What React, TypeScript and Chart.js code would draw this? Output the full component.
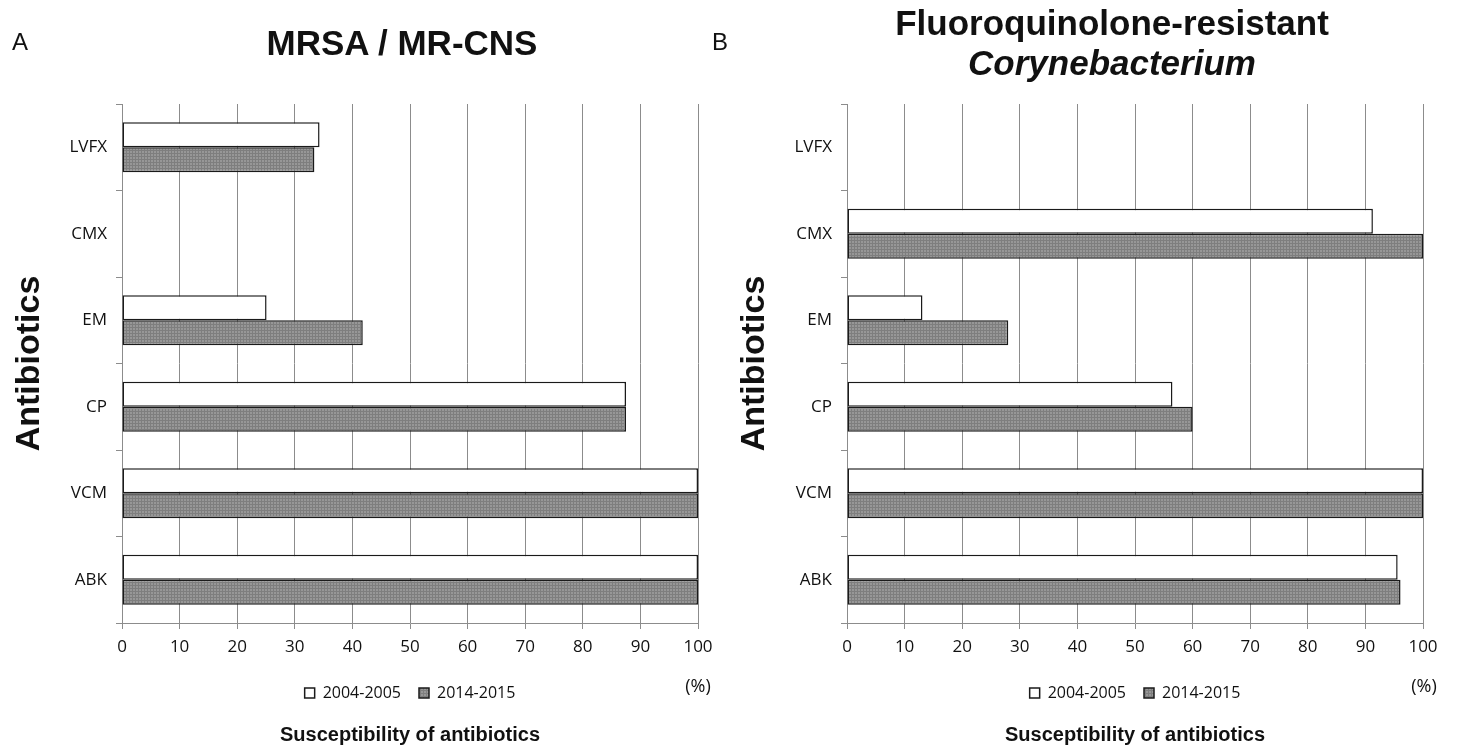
import React, { useEffect, useRef } from "react";
import { Chart, registerables } from "chart.js";

Chart.register(...registerables);

// ---- data ----
const categories = ["LVFX", "CMX", "EM", "CP", "VCM", "ABK"];
const seriesLabels = ["2004-2005", "2014-2015"];
const mrsa2004 = [34.3, null, 25.1, 87.5, 100, 100];
const mrsa2014 = [33.4, null, 41.8, 87.5, 100, 100];
const coryne2004 = [null, 91.3, 13.1, 56.5, 100, 95.6];
const coryne2014 = [null, 100, 28.0, 60.0, 100, 96.1];
const xMin = 0;
const xMax = 100;
const xStep = 10;
const xAxisTitle = "Susceptibility of antibiotics";
const yAxisTitle = "Antibiotics";
const panelLetters = ["A", "B"];
const titleLeft = "MRSA / MR-CNS";
const titleRightLine1 = "Fluoroquinolone-resistant";
const titleRightLine2 = "Corynebacterium";
const unitLabel = "(%)";

const GRID = "#8c8c8c";
const TXT = "#111111";
const TICK_FONT = "'Open Sans', 'Noto Sans', sans-serif";
const BOLD_FONT = "'Liberation Sans', Arial, sans-serif";

function makePattern(ctx: CanvasRenderingContext2D) {
  const c = document.createElement("canvas");
  c.width = 3;
  c.height = 3;
  const g = c.getContext("2d")!;
  g.fillStyle = "#979797";
  g.fillRect(0, 0, 3, 3);
  g.fillStyle = "#7e7e7e";
  g.fillRect(0, 0, 3, 1);
  g.fillRect(0, 0, 1, 3);
  return ctx.createPattern(c, "repeat") || "#8e8e8e";
}

function BarPanel({ d1, d2 }: { d1: (number | null)[]; d2: (number | null)[] }) {
  const ref = useRef<HTMLCanvasElement | null>(null);
  useEffect(() => {
    const canvas = ref.current!;
    const ctx = canvas.getContext("2d")!;
    const pattern = makePattern(ctx);
    const common = {
      borderColor: "#1a1a1a",
      borderWidth: 1.5,
      borderSkipped: false,
      barPercentage: 1.0,
      categoryPercentage: 0.58,
    };
    const chart = new Chart(ctx, {
      type: "bar",
      data: {
        labels: categories,
        datasets: [
          { label: seriesLabels[0], data: d1, backgroundColor: "#ffffff", ...common },
          { label: seriesLabels[1], data: d2, backgroundColor: pattern as any, ...common },
        ],
      },
      options: {
        indexAxis: "y",
        responsive: false,
        animation: false,
        layout: { padding: { top: 104, left: 0, right: 30, bottom: 0 } },
        scales: {
          x: {
            min: xMin,
            max: xMax,
            ticks: {
              stepSize: xStep,
              color: TXT,
              padding: 8,
              font: { family: TICK_FONT, size: 17 },
            },
            grid: { color: GRID, lineWidth: 1, tickLength: 6, drawTicks: true },
            border: { color: GRID, width: 1 },
            afterFit: (scale: any) => {
              scale.height = 44;
            },
          },
          y: {
            ticks: {
              color: TXT,
              padding: 9,
              font: { family: TICK_FONT, size: 17 },
            },
            grid: {
              color: GRID,
              drawOnChartArea: false,
              drawTicks: true,
              tickLength: 6,
              offset: true,
            },
            border: { color: GRID, width: 1 },
            title: {
              display: true,
              text: yAxisTitle,
              color: TXT,
              font: { family: BOLD_FONT, size: 34, weight: "bold" },
              padding: { top: 9, bottom: 0 },
            },
            afterFit: (scale: any) => {
              scale.width = 122;
            },
          },
        },
        plugins: {
          tooltip: { enabled: false },
          legend: {
            display: true,
            position: "bottom",
            fullSize: false,
            align: "center",
            labels: {
              boxWidth: 10,
              boxHeight: 10,
              padding: 18,
              color: TXT,
              font: { family: TICK_FONT, size: 16 },
            },
          },
          title: {
            display: true,
            text: xAxisTitle,
            position: "bottom",
            fullSize: false,
            color: TXT,
            font: { family: BOLD_FONT, size: 20, weight: "bold" },
            padding: { top: 12, bottom: 4 },
          },
        },
      },
    } as any);
    return () => chart.destroy();
  }, [d1, d2]);
  return <canvas ref={ref} width={728} height={751} style={{ display: "block" }} />;
}

const abs = (extra: React.CSSProperties): React.CSSProperties => ({
  position: "absolute",
  whiteSpace: "nowrap",
  lineHeight: 1,
  color: TXT,
  ...extra,
});

export default function App() {
  return (
    <div
      style={{
        position: "fixed",
        left: 0,
        top: 0,
        width: 1457,
        height: 751,
        background: "#ffffff",
        overflow: "hidden",
      }}
    >
      <div style={{ position: "absolute", left: 0, top: 0 }}>
        <BarPanel d1={mrsa2004} d2={mrsa2014} />
      </div>
      <div style={{ position: "absolute", left: 725, top: 0 }}>
        <BarPanel d1={coryne2004} d2={coryne2014} />
      </div>
      <div style={abs({ left: 12, top: 30, fontSize: 24, fontFamily: BOLD_FONT })}>{panelLetters[0]}</div>
      <div style={abs({ left: 712, top: 30, fontSize: 24, fontFamily: BOLD_FONT })}>{panelLetters[1]}</div>
      <div
        style={abs({
          left: 402,
          top: 25,
          transform: "translateX(-50%)",
          fontSize: 35,
          fontWeight: "bold",
          fontFamily: BOLD_FONT,
        })}
      >
        {titleLeft}
      </div>
      <div
        style={abs({
          left: 1112,
          top: 5,
          transform: "translateX(-50%)",
          fontSize: 35,
          fontWeight: "bold",
          fontFamily: BOLD_FONT,
        })}
      >
        {titleRightLine1}
      </div>
      <div
        style={abs({
          left: 1112,
          top: 45,
          transform: "translateX(-50%)",
          fontSize: 35,
          fontWeight: "bold",
          fontStyle: "italic",
          fontFamily: BOLD_FONT,
        })}
      >
        {titleRightLine2}
      </div>
      <div style={abs({ left: 698, top: 676, transform: "translateX(-50%)", fontSize: 18, fontFamily: TICK_FONT })}>
        {unitLabel}
      </div>
      <div style={abs({ left: 1424, top: 676, transform: "translateX(-50%)", fontSize: 18, fontFamily: TICK_FONT })}>
        {unitLabel}
      </div>
    </div>
  );
}
